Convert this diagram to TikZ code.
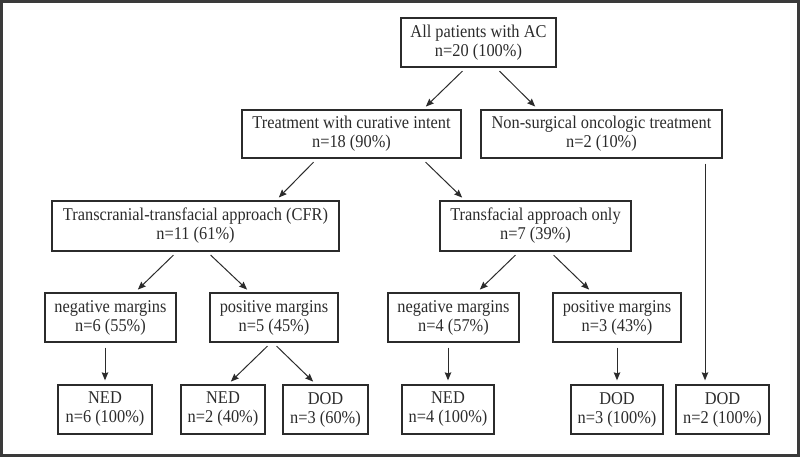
\documentclass[tikz,border=0pt]{standalone}
\usepackage{fontspec}
\setmainfont{Liberation Serif}[FakeStretch=0.91]
\usetikzlibrary{arrows.meta}
\definecolor{ink}{HTML}{2B2B2B}
\definecolor{frame}{HTML}{3A3A3A}
\begin{document}
\begin{tikzpicture}[x=1pt,y=-1pt,
  box/.style={draw=ink, line width=1.3pt, rectangle, inner sep=0pt, align=center,
    minimum height=49pt, text=ink, font=\fontsize{18}{19}\selectfont},
  arr/.style={draw=ink, line width=1pt, -{Stealth[length=8pt,width=6.5pt,inset=1pt]},
    shorten <=5pt, shorten >=4pt}]
\useasboundingbox (0,0) rectangle (800,457);
\draw[frame, line width=3pt] (1.5,1.5) rectangle (798.5,455.5);

\node[box, minimum width=155pt] (all) at (478.5,42.5) {All patients with AC\\n=20 (100\%)};
\node[box, minimum width=219pt, minimum height=48pt] (cur) at (351.5,134) {Treatment with curative intent\\n=18 (90\%)};
\node[box, minimum width=241pt, minimum height=48pt] (non) at (601.5,134) {Non-surgical oncologic treatment\\n=2 (10\%)};
\node[box, minimum width=287pt, minimum height=50pt] (cfr) at (195.5,226) {Transcranial-transfacial approach (CFR)\\n=11 (61\%)};
\node[box, minimum width=191pt, minimum height=50pt] (tf) at (535.5,226) {Transfacial approach only\\n=7 (39\%)};
\node[box, minimum width=131pt] (negL) at (110.5,317.5) {negative margins\\n=6 (55\%)};
\node[box, minimum width=128pt] (posL) at (274,317.5) {positive margins\\n=5 (45\%)};
\node[box, minimum width=131pt] (negR) at (453.5,317.5) {negative margins\\n=4 (57\%)};
\node[box, minimum width=128pt] (posR) at (617,317.5) {positive margins\\n=3 (43\%)};
\node[box, minimum width=94pt] (ned6) at (105,409.5) {NED\\n=6 (100\%)};
\node[box, minimum width=84pt] (ned2) at (223,409.5) {NED\\n=2 (40\%)};
\node[box, minimum width=85pt] (dod3) at (325.5,409.5) {DOD\\n=3 (60\%)};
\node[box, minimum width=92pt] (ned4) at (448,409.5) {NED\\n=4 (100\%)};
\node[box, minimum width=92pt] (dod3b) at (617,409.5) {DOD\\n=3 (100\%)};
\node[box, minimum width=93pt] (dod2) at (722.5,409.5) {DOD\\n=2 (100\%)};

\draw[arr] ([xshift=-12.5pt]all.south) -- ([xshift=71.5pt]cur.north);
\draw[arr] ([xshift=17.5pt]all.south) -- ([xshift=-63.5pt]non.north);
\draw[arr] ([xshift=-34.5pt]cur.south) -- ([xshift=80.5pt]cfr.north);
\draw[arr] ([xshift=70.5pt]cur.south) -- ([xshift=-70.5pt]tf.north);
\draw[arr] ([xshift=-18.5pt]cfr.south) -- ([xshift=24.5pt]negL.north);
\draw[arr] ([xshift=11.5pt]cfr.south) -- ([xshift=-24pt]posL.north);
\draw[arr] ([xshift=-16.5pt]tf.south) -- ([xshift=23.5pt]negR.north);
\draw[arr] ([xshift=14.5pt]tf.south) -- ([xshift=-25pt]posR.north);
\draw[arr] ([xshift=-5.5pt]negL.south) -- (ned6.north);
\draw[arr] ([xshift=-3pt]posL.south) -- ([xshift=5pt]ned2.north);
\draw[arr] ([xshift=-1pt]posL.south) -- ([xshift=-9.5pt]dod3.north);
\draw[arr] ([xshift=-5.5pt]negR.south) -- (ned4.north);
\draw[arr] (posR.south) -- (dod3b.north);
\draw[arr] ([xshift=103.5pt]non.south) -- ([xshift=-17.5pt]dod2.north);
\end{tikzpicture}
\end{document}
